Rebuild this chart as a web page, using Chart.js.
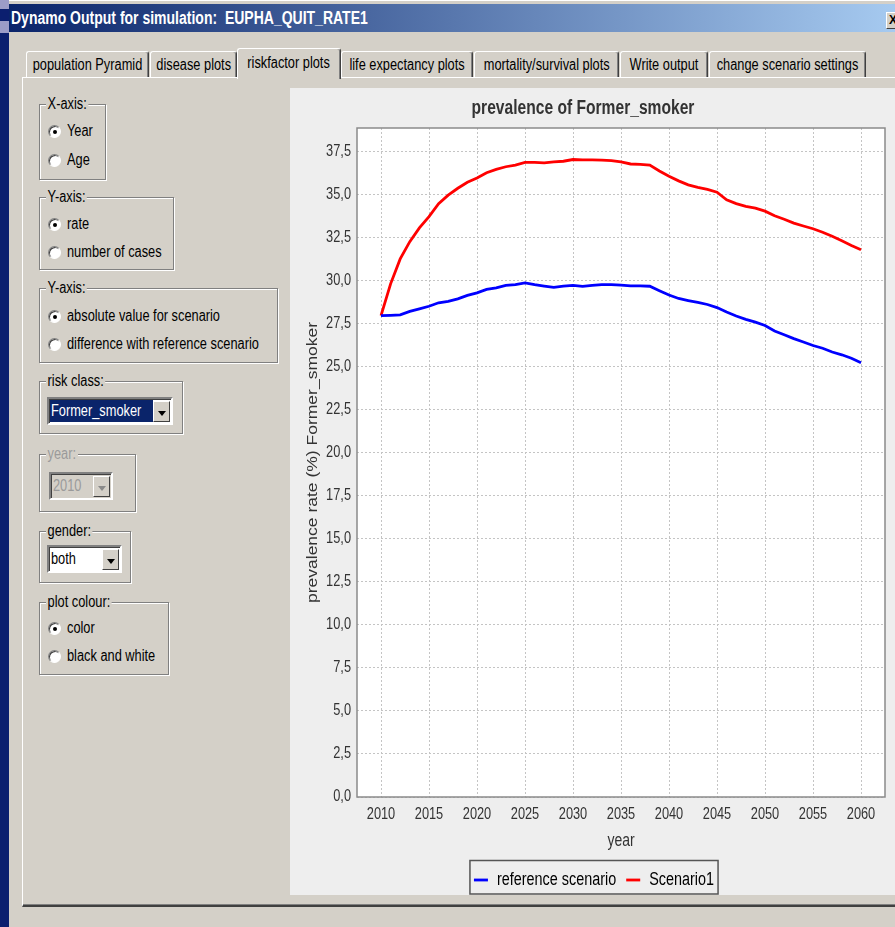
<!DOCTYPE html>
<html><head><meta charset="utf-8">
<script src="https://cdn.jsdelivr.net/npm/chart.js@4.4.1/dist/chart.umd.min.js"></script>
<style>
html,body{margin:0;padding:0}
body{width:895px;height:927px;position:relative;overflow:hidden;background:#d4d0c8;
 font-family:"Liberation Sans",Arial,sans-serif;font-size:16px;color:#000}
.a{position:absolute}
.sq{display:inline-block;flex:none;transform:scaleX(0.8);transform-origin:50% 50%;white-space:nowrap}
.tab{position:absolute;top:51px;height:25px;background:#d4d0c8;border-top:1px solid #fff;border-left:1px solid #fff;
 border-right:1px solid #404040;box-shadow:inset -1px 0 0 #808080;border-radius:3px 3px 0 0;
 display:flex;justify-content:center;align-items:center;white-space:nowrap;overflow:visible}
.tab.sel{top:48px;height:30px;z-index:3;align-items:flex-start;line-height:28px}
.grp{position:absolute;border:1px solid #808080;box-shadow:1px 1px 0 #fff, inset 1px 1px 0 #fff}
.lg{position:absolute;top:-9px;left:6px;padding:0 2px;background:#d4d0c8;line-height:16px;white-space:nowrap;transform:scaleX(0.8);transform-origin:0 50%}
.rd{position:absolute;left:48px;width:11px;height:11px;border-radius:50%;background:#fff;border:1px solid;border-color:#808080 #fff #fff #808080;box-shadow:inset 1px 1px 0 #404040}
.rd.on::after{content:"";position:absolute;left:4px;top:4px;width:4px;height:4px;border-radius:50%;background:#000}
.rt{position:absolute;left:67px;line-height:16px;white-space:nowrap;transform:scaleX(0.8);transform-origin:0 50%}
.cb{position:absolute;background:#fff;border:2px solid;border-color:#808080 #fff #fff #808080;box-shadow:inset 1px 1px 0 #404040;box-sizing:border-box}
.ct{position:absolute;left:2px;top:1px;line-height:22px;white-space:nowrap;transform:scaleX(0.8);transform-origin:0 50%}
.btn{position:absolute;top:2px;right:1px;width:17px;bottom:1px;background:#d4d0c8;border:1px solid;border-color:#fff #404040 #404040 #fff;box-sizing:border-box}
.arr{position:absolute;left:4px;top:9px;width:0;height:0;border-left:4px solid transparent;border-right:4px solid transparent;border-top:5px solid #000}
</style></head>
<body>
<!-- window frame -->
<div class="a" style="left:0;top:0;width:9px;height:927px;background:#0b1f6f"></div>
<div class="a" style="left:0;top:0;width:9px;height:9px;background:#9c9cc8"></div>
<div class="a" style="left:0;top:21px;width:9px;height:12px;background:#9c9cc8"></div>
<div class="a" style="left:9px;top:0;width:886px;height:3px;background:#d4d0c8;border-top:1px solid #fff"></div>
<div class="a" style="left:9px;top:4px;width:886px;height:28px;background:linear-gradient(to right,#0a246a,#a6caf0)"></div>
<div class="a" style="left:11px;top:4px;height:28px;line-height:28px;color:#fff;font-weight:bold;font-size:17.5px;white-space:nowrap;transform:scaleX(0.8);transform-origin:0 50%">Dynamo Output for simulation:&nbsp; EUPHA_QUIT_RATE1</div>
<div class="a" style="left:886px;top:12px;width:16px;height:15px;background:#d4d0c8;border:1px solid;border-color:#fff #404040 #404040 #fff;font-size:12px;font-weight:bold;line-height:15px;text-indent:2px">X</div>

<!-- tab panel -->
<div class="a" style="left:22px;top:77px;width:900px;height:827px;border-left:1px solid #fff;border-top:1px solid #fff;border-bottom:2px solid #404040;box-shadow:inset 0 -1px 0 #808080"></div>
<div class="tab" style="left:26px;width:121px"><span class="sq">population Pyramid</span></div>
<div class="tab" style="left:150px;width:85px"><span class="sq">disease plots</span></div>
<div class="tab sel" style="left:237px;width:102px"><span class="sq">riskfactor plots</span></div>
<div class="tab" style="left:341px;width:130px"><span class="sq">life expectancy plots</span></div>
<div class="tab" style="left:474px;width:143px"><span class="sq">mortality/survival plots</span></div>
<div class="tab" style="left:620px;width:86px"><span class="sq">Write output</span></div>
<div class="tab" style="left:709px;width:155px"><span class="sq">change scenario settings</span></div>

<!-- left controls -->
<div class="grp" style="left:39px;top:104px;width:65px;height:74px"><div class="lg">X-axis:</div></div>
<div class="rd on" style="top:125px"></div><div class="rt" style="top:123px">Year</div>
<div class="rd" style="top:154px"></div><div class="rt" style="top:152px">Age</div>

<div class="grp" style="left:39px;top:197px;width:133px;height:71px"><div class="lg">Y-axis:</div></div>
<div class="rd on" style="top:218px"></div><div class="rt" style="top:216px">rate</div>
<div class="rd" style="top:246px"></div><div class="rt" style="top:244px">number of cases</div>

<div class="grp" style="left:39px;top:288px;width:237px;height:73px"><div class="lg">Y-axis:</div></div>
<div class="rd on" style="top:310px"></div><div class="rt" style="top:308px">absolute value for scenario</div>
<div class="rd" style="top:338px"></div><div class="rt" style="top:336px">difference with reference scenario</div>

<div class="grp" style="left:39px;top:381px;width:142px;height:51px"><div class="lg">risk class:</div></div>
<div class="cb" style="left:47px;top:397px;width:126px;height:28px">
 <div class="a" style="left:1px;top:1px;width:103px;height:22px;background:#0a246a"></div>
 <div class="ct" style="color:#fff">Former_smoker</div>
 <div class="btn"><div class="arr"></div></div>
</div>

<div class="grp" style="left:39px;top:454px;width:95px;height:56px"><div class="lg" style="color:#9a9a9a">year:</div></div>
<div class="cb" style="left:49px;top:472px;width:64px;height:28px;background:#d4d0c8">
 <div class="ct" style="color:#9a9a9a">2010</div>
 <div class="btn"><div class="arr" style="border-top-color:#8a8a8a"></div></div>
</div>

<div class="grp" style="left:39px;top:531px;width:90px;height:50px"><div class="lg">gender:</div></div>
<div class="cb" style="left:47px;top:545px;width:75px;height:28px">
 <div class="ct">both</div>
 <div class="btn"><div class="arr"></div></div>
</div>

<div class="grp" style="left:39px;top:602px;width:128px;height:71px"><div class="lg">plot colour:</div></div>
<div class="rd on" style="top:622px"></div><div class="rt" style="top:620px">color</div>
<div class="rd" style="top:650px"></div><div class="rt" style="top:648px">black and white</div>

<!-- chart panel -->
<div class="a" style="left:290px;top:88px;width:605px;height:807px;background:#eeeeee"></div>
<canvas id="c" class="a" style="left:290px;top:88px" width="605" height="811"></canvas>

<script>
const years = [2010,2011,2012,2013,2014,2015,2016,2017,2018,2019,2020,2021,2022,2023,2024,2025,2026,2027,2028,2029,2030,
  2031,2032,2033,2034,2035,2036,2037,2038,2039,2040,2041,2042,2043,2044,2045,2046,2047,2048,2049,2050,
  2051,2052,2053,2054,2055,2056,2057,2058,2059,2060];
const referenceScenario = [27.95,27.97,28.0,28.2,28.35,28.5,28.7,28.78,28.93,29.13,29.28,29.48,29.57,29.71,29.75,29.86,29.75,29.67,29.6,29.67,29.71,
  29.65,29.71,29.75,29.75,29.72,29.68,29.68,29.66,29.4,29.15,28.95,28.83,28.72,28.6,28.42,28.16,27.93,27.74,27.58,27.38,
  27.06,26.84,26.62,26.42,26.22,26.06,25.84,25.68,25.48,25.22];
const scenario1 = [27.95,29.8,31.25,32.25,33.05,33.7,34.45,34.95,35.35,35.7,35.95,36.25,36.45,36.6,36.7,36.85,36.85,36.82,36.88,36.92,37.02,
  37.0,37.0,36.98,36.95,36.88,36.76,36.74,36.7,36.35,36.05,35.78,35.55,35.4,35.28,35.12,34.68,34.46,34.3,34.2,34.02,
  33.75,33.55,33.33,33.16,33.0,32.8,32.56,32.3,32.03,31.78];
const seriesNames = ['reference scenario','Scenario1'];
const xTickValues = [2010,2015,2020,2025,2030,2035,2040,2045,2050,2055,2060];
const yTickValues = [0,2.5,5,7.5,10,12.5,15,17.5,20,22.5,25,27.5,30,32.5,35,37.5];
const yTickLabels = ['0,0','2,5','5,0','7,5','10,0','12,5','15,0','17,5','20,0','22,5','25,0','27,5','30,0','32,5','35,0','37,5'];
const chartTitle = 'prevalence of Former_smoker';
const xAxisTitle = 'year';
const yAxisTitle = 'prevalence rate (%) Former_smoker';

Chart.defaults.font.family = '"Liberation Sans", Arial, sans-serif';

// the reference text is horizontally compressed: draw canvas text squeezed along screen x
const SX = 0.8;
const canvas = document.getElementById('c');
const cctx = canvas.getContext('2d');
const nativeFill = CanvasRenderingContext2D.prototype.fillText;
const nativeMeasure = CanvasRenderingContext2D.prototype.measureText;
cctx.fillText = function(text, x, y, maxWidth){
  const m = this.getTransform();
  const rotated = Math.abs(m.b) > 0.5;
  this.save();
  this.translate(x, y);
  if (rotated) this.scale(1, SX); else this.scale(SX, 1);
  if (maxWidth === undefined) nativeFill.call(this, text, 0, 0);
  else nativeFill.call(this, text, 0, 0, rotated ? maxWidth : maxWidth / SX);
  this.restore();
};
cctx.measureText = function(text){
  const m = nativeMeasure.call(this, text);
  return {width:m.width*SX, actualBoundingBoxLeft:m.actualBoundingBoxLeft*SX, actualBoundingBoxRight:m.actualBoundingBoxRight*SX,
    actualBoundingBoxAscent:m.actualBoundingBoxAscent, actualBoundingBoxDescent:m.actualBoundingBoxDescent,
    fontBoundingBoxAscent:m.fontBoundingBoxAscent, fontBoundingBoxDescent:m.fontBoundingBoxDescent};
};

const frame = {
  id:'frame',
  afterLayout(chart){
    // title sits slightly left of the panel centre in the reference
    if (chart.titleBlock) chart.titleBlock.left -= 22;
  },
  beforeDraw(chart){
    const {ctx, chartArea:a} = chart;
    ctx.save();
    ctx.fillStyle = '#eeeeee'; ctx.fillRect(0,0,chart.width,807);
    ctx.fillStyle = '#ffffff'; ctx.fillRect(a.left,a.top,a.right-a.left,a.bottom-a.top);
    ctx.restore();
  },
  afterDraw(chart){
    const {ctx, chartArea:a} = chart;
    ctx.save();
    ctx.strokeStyle = '#8a8a8a'; ctx.lineWidth = 1.5;
    ctx.strokeRect(a.left,a.top,a.right-a.left,a.bottom-a.top);
    const hb = chart.legend && chart.legend.legendHitBoxes;
    if (hb && hb.length){
      const last = hb[hb.length-1];
      const l = hb[0].left - 4, r = last.left + last.width + 4;
      const t = hb[0].top - 10.5, b = hb[0].top + hb[0].height + 5;
      ctx.strokeStyle = '#555'; ctx.lineWidth = 1.5;
      ctx.strokeRect(l,t,r-l,b-t);
    }
    ctx.restore();
  }
};

new Chart(canvas, {
  type:'line',
  data:{
    datasets:[
      {label:seriesNames[0], data:years.map((y,i)=>({x:y,y:referenceScenario[i]})), borderColor:'#0000ff', backgroundColor:'#0000ff', borderWidth:2.8, pointRadius:0, tension:0},
      {label:seriesNames[1], data:years.map((y,i)=>({x:y,y:scenario1[i]})), borderColor:'#ff0000', backgroundColor:'#ff0000', borderWidth:2.8, pointRadius:0, tension:0}
    ]
  },
  options:{
    responsive:false, animation:false, devicePixelRatio:1,
    layout:{padding:{left:13,right:10,top:0,bottom:0}},
    plugins:{
      title:{display:true,text:chartTitle,color:'#333',font:{size:19.5,weight:'bold'},padding:{top:9.3,bottom:7.3}},
      legend:{position:'bottom',labels:{usePointStyle:true,pointStyle:'line',pointStyleWidth:14,color:'#000',font:{size:18},padding:10}},
      tooltip:{enabled:false}
    },
    scales:{
      x:{type:'linear',min:2007.5,max:2062.5,
        afterBuildTicks:s=>{s.ticks = xTickValues.map(v=>({value:v}));},
        afterFit:s=>{s.height = 64;},
        ticks:{autoSkip:false,maxRotation:0,minRotation:0,padding:8,color:'#333',font:{size:16},callback:v=>String(v)},
        grid:{color:'#c4c4c4',lineWidth:1,drawTicks:false},
        border:{display:false,dash:[2,2]},
        title:{display:true,text:xAxisTitle,color:'#333',font:{size:17.5},padding:{top:0,bottom:9}}
      },
      y:{min:0,max:38.85,
        afterBuildTicks:s=>{s.ticks = yTickValues.map(v=>({value:v}));},
        afterFit:s=>{s.width = 54;},
        ticks:{padding:6,color:'#333',font:{size:16},callback:v=>{const i=yTickValues.indexOf(v);return i>=0?yTickLabels[i]:'';}},
        grid:{color:'#c4c4c4',lineWidth:1,drawTicks:false},
        border:{display:false,dash:[2,2]},
        title:{display:true,text:yAxisTitle,color:'#333',font:{size:17.5},padding:{top:0,bottom:0}}
      }
    }
  },
  plugins:[frame]
});
</script>
</body></html>
